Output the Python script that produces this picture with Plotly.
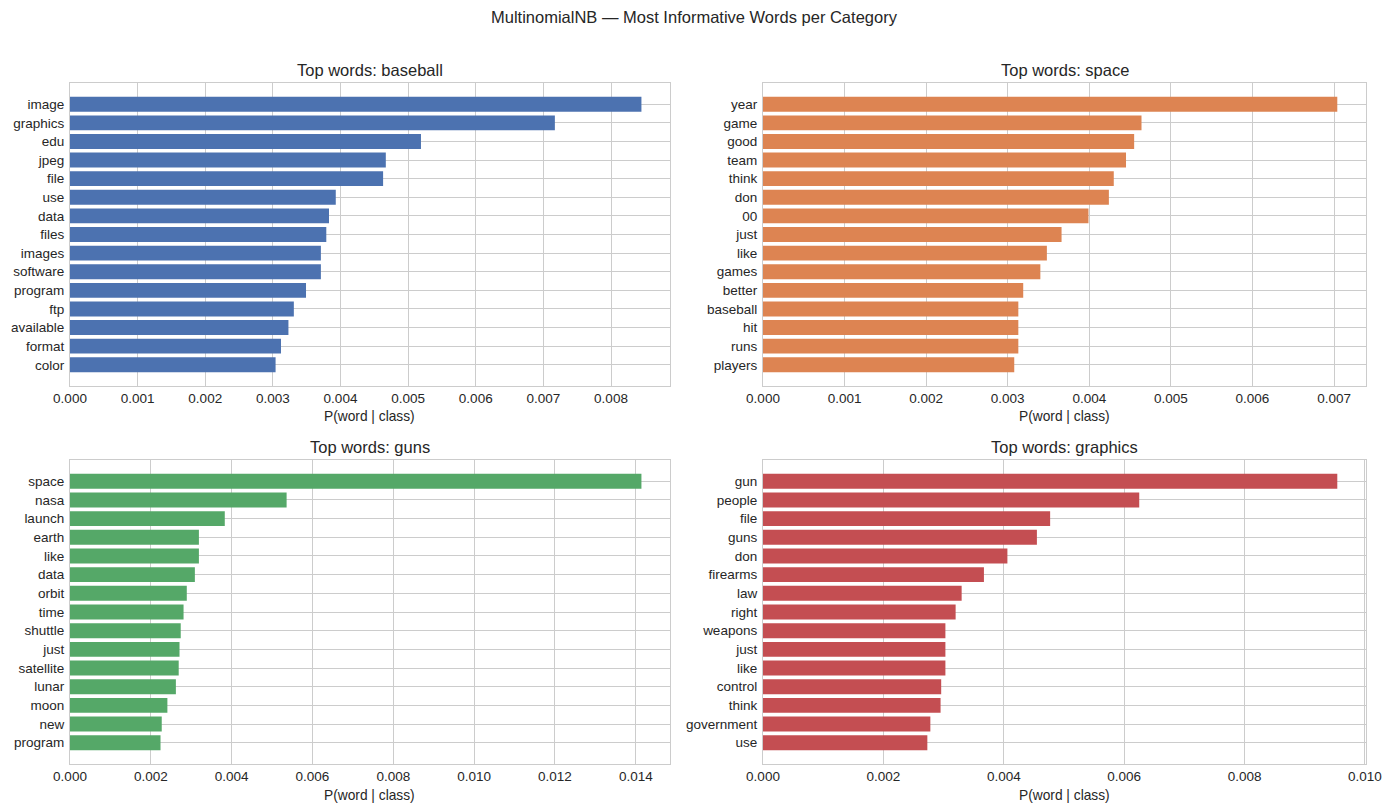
import plotly.graph_objects as go

# ---- data (top 15 words per panel, ordered largest first) ----
title_main = "MultinomialNB — Most Informative Words per Category"
panel_titles = ["Top words: baseball", "Top words: space", "Top words: guns", "Top words: graphics"]

words_baseball = ["image", "graphics", "edu", "jpeg", "file", "use", "data", "files",
                  "images", "software", "program", "ftp", "available", "format", "color"]
vals_baseball = [0.00845, 0.00717, 0.00519, 0.00467, 0.00463, 0.00393, 0.00383, 0.00379,
                 0.00371, 0.00371, 0.00349, 0.00331, 0.00323, 0.00312, 0.00304]

words_space = ["year", "game", "good", "team", "think", "don", "00", "just",
               "like", "games", "better", "baseball", "hit", "runs", "players"]
vals_space = [0.00704, 0.00464, 0.00455, 0.00445, 0.00430, 0.00424, 0.00399, 0.00366,
              0.00348, 0.00340, 0.00319, 0.00313, 0.00313, 0.00313, 0.00308]

words_guns = ["space", "nasa", "launch", "earth", "like", "data", "orbit", "time",
              "shuttle", "just", "satellite", "lunar", "moon", "new", "program"]
vals_guns = [0.01414, 0.00536, 0.00383, 0.00319, 0.00319, 0.00309, 0.00289, 0.00281,
             0.00274, 0.00271, 0.00269, 0.00262, 0.00241, 0.00227, 0.00224]

words_graphics = ["gun", "people", "file", "guns", "don", "firearms", "law", "right",
                  "weapons", "just", "like", "control", "think", "government", "use"]
vals_graphics = [0.00954, 0.00625, 0.00477, 0.00455, 0.00406, 0.00367, 0.00330, 0.00320,
                 0.00303, 0.00303, 0.00303, 0.00296, 0.00295, 0.00278, 0.00273]

colors = ["#4C72B0", "#DD8452", "#55A868", "#C44E52"]
dticks = [0.001, 0.001, 0.002, 0.002]
x_label = "P(word | class)"

panels = [(words_baseball, vals_baseball), (words_space, vals_space),
          (words_guns, vals_guns), (words_graphics, vals_graphics)]

W, H = 1389, 812
FONT = "Liberation Sans, Arial, sans-serif"
TXT = "#262626"
GRID = "#cccccc"

# panel boxes in pixels (left, right, top, bottom)
boxes = [(70, 670, 83, 386), (763, 1366, 83, 386),
         (70, 670, 460, 764), (763, 1366, 460, 764)]

fig = go.Figure()
annotations = []
layout = {}
for i, ((words, vals), col, dt, box) in enumerate(zip(panels, colors, dticks, boxes)):
    n = i + 1
    xa = "x" if n == 1 else f"x{n}"
    ya = "y" if n == 1 else f"y{n}"
    fig.add_trace(go.Bar(
        x=vals, y=words, orientation="h", marker=dict(color=col, line=dict(width=0)),
        xaxis=xa, yaxis=ya, showlegend=False, width=0.8,
    ))
    l, r, t, b = box
    xkey = "xaxis" if n == 1 else f"xaxis{n}"
    ykey = "yaxis" if n == 1 else f"yaxis{n}"
    layout[xkey] = dict(
        domain=[l / W, r / W], anchor=ya, range=[0, max(vals) * 1.05], automargin=False,
        dtick=dt, tick0=0, tickformat=".3f", showgrid=True, gridcolor=GRID, gridwidth=1,
        showline=True, mirror=True, linecolor=GRID, linewidth=1.25, zeroline=False,
        ticks="", ticklabelstandoff=0,
        tickfont=dict(family=FONT, size=13.5, color=TXT),
    )
    ncat = len(words)
    layout[ykey] = dict(
        domain=[1 - b / H, 1 - t / H], anchor=xa, type="category", automargin=False,
        categoryorder="array", categoryarray=list(reversed(words)),
        range=[-0.4 - 0.05 * (ncat - 0.2), ncat - 1 + 0.4 + 0.05 * (ncat - 0.2)],
        showgrid=True, gridcolor=GRID, gridwidth=1,
        showline=True, mirror=True, linecolor=GRID, linewidth=1.25, zeroline=False,
        ticks="", ticklabelstandoff=2,
        tickfont=dict(family=FONT, size=13.5, color=TXT),
    )
    cx = (l + r) / 2 / W
    annotations.append(dict(text=panel_titles[i], x=cx, y=1 - (t - 13) / H, xref="paper", yref="paper",
                            xanchor="center", yanchor="middle", showarrow=False,
                            font=dict(family=FONT, size=16.5, color=TXT)))
    annotations.append(dict(text=x_label, x=cx, y=1 - (b + 31) / H, xref="paper", yref="paper",
                            xanchor="center", yanchor="middle", showarrow=False,
                            font=dict(family=FONT, size=13.75, color=TXT)))

annotations.append(dict(text=title_main, x=0.5, y=1 - 17 / H, xref="paper", yref="paper",
                        xanchor="center", yanchor="middle", showarrow=False,
                        font=dict(family=FONT, size=16.5, color=TXT)))

fig.update_layout(
    width=W, height=H, margin=dict(l=0, r=0, t=0, b=0),
    paper_bgcolor="white", plot_bgcolor="white",
    annotations=annotations, bargap=0.2, **layout,
)

fig.write_html("out.html")
